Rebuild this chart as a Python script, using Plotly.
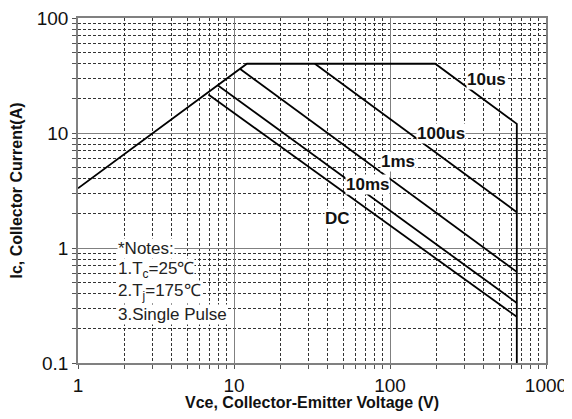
import numpy as np
import plotly.graph_objects as go

# Safe operating area curves (Vce in V, Ic in A)
outline_v = [1, 12.1, 195, 650, 650]
outline_i = [3.3, 40, 40, 12.0, 0.1]

us100_v = [33, 650]
us100_i = [40, 2.05]

ms1_v = [10.9, 650]
ms1_i = [36.2, 0.62]

ms10_v = [7.9, 650]
ms10_i = [25.9, 0.333]

dc_v = [6.85, 650]
dc_i = [21.6, 0.252]

curve_labels = ["10us", "100us", "1ms", "10ms", "DC"]
label_v = [414, 213, 113, 71.8, 46.3]
label_i = [29.2, 9.9, 5.67, 3.56, 1.80]

notes = ["*Notes:", "1.T<sub>c</sub>=25℃", "2.T<sub>j</sub>=175℃", "3.Single Pulse"]
notes_i = [1.0, 0.641, 0.411, 0.265]

x_ticks = [1, 10, 100, 1000]
x_ticktext = ["1", "10", "100", "1000"]
y_ticks = [0.1, 1, 10, 100]
y_ticktext = ["0.1", "1", "10", "100"]

FONT = "Liberation Sans, Arial, sans-serif"

fig = go.Figure()
line_style = dict(color="black", width=1.8)
for v, i in [(outline_v, outline_i), (us100_v, us100_i), (ms1_v, ms1_i),
             (ms10_v, ms10_i), (dc_v, dc_i)]:
    fig.add_trace(go.Scatter(x=v, y=i, mode="lines", line=line_style,
                             showlegend=False, hoverinfo="skip"))

for txt, v, i in zip(curve_labels, label_v, label_i):
    fig.add_annotation(x=np.log10(v), y=np.log10(i), text="<b>%s</b>" % txt,
                       showarrow=False, bgcolor="white", borderpad=0,
                       font=dict(family=FONT, size=17, color="#111"))

for txt, i in zip(notes, notes_i):
    fig.add_annotation(x=np.log10(1.78), y=np.log10(i), text=txt, xanchor="left",
                       showarrow=False, bgcolor="white", borderpad=0,
                       font=dict(family=FONT, size=17, color="#222"))

axis_common = dict(
    type="log", automargin=False, ticklabeloverflow="allow",
    showline=True, mirror=True, linecolor="#808080", linewidth=1.5,
    showgrid=True, gridcolor="#808080", gridwidth=1,
    ticks="outside", ticklen=4, tickcolor="#555",
    tickfont=dict(family=FONT, size=19, color="#111"),
    zeroline=False,
    minor=dict(dtick="D1", showgrid=True, gridcolor="#333", gridwidth=1,
               griddash="3px,2px", ticks="outside", ticklen=4, tickcolor="#555"),
)

fig.update_xaxes(axis_common, range=[0, 3], tickvals=x_ticks, ticktext=x_ticktext,
                 title=dict(text="<b>Vce, Collector-Emitter Voltage (V)</b>",
                            font=dict(family=FONT, size=16, color="#111")))
fig.update_yaxes(axis_common, range=[-1, 2], tickvals=y_ticks, ticktext=y_ticktext,
                 title=dict(text="<b>Ic, Collector Current(A)</b>",
                            font=dict(family=FONT, size=16, color="#111")))

# page body has an 8px margin, so the figure starts at (8, 8)
fig.update_layout(
    width=564, height=403,
    margin=dict(l=70, r=26, t=10, b=48),
    plot_bgcolor="white", paper_bgcolor="white",
)

fig.write_html("out.html")
